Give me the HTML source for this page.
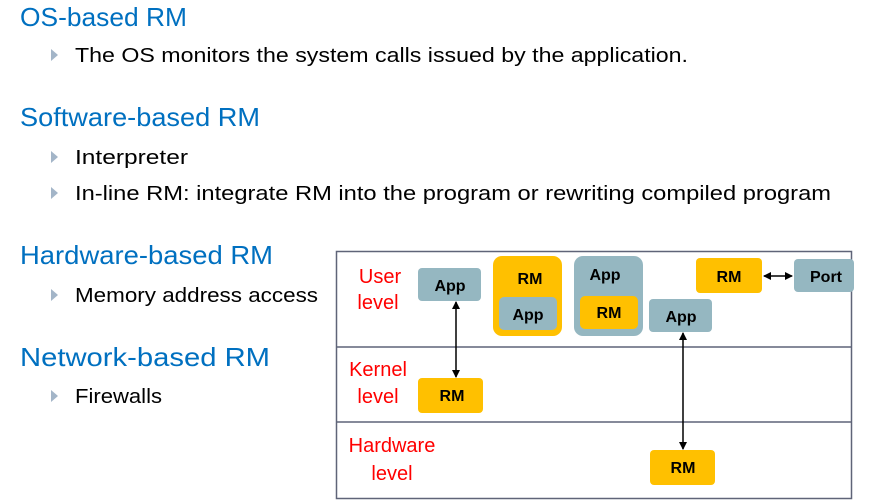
<!DOCTYPE html>
<html><head><meta charset="utf-8"><style>
html,body{margin:0;padding:0;background:#fff;}
svg{display:block;font-family:"Liberation Sans",sans-serif;}
.h{fill:#0070c0;font-size:26px;}
.b{fill:#000;font-size:20px;}
.r{fill:#ff0000;font-size:20px;}
.l{font-size:16px;font-weight:bold;fill:#000;text-anchor:middle;}
</style></head><body>
<svg width="871" height="502" viewBox="0 0 871 502">
<defs>
<marker id="a" markerWidth="8" markerHeight="8" refX="7" refY="4" orient="auto-start-reverse" markerUnits="userSpaceOnUse"><path d="M0,0 L8,4 L0,8 z" fill="#000"/></marker>
</defs>
<g class="h">
<text x="20" y="26" textLength="167" lengthAdjust="spacingAndGlyphs">OS-based RM</text>
<text x="20" y="126" textLength="240" lengthAdjust="spacingAndGlyphs">Software-based RM</text>
<text x="20" y="264" textLength="253" lengthAdjust="spacingAndGlyphs">Hardware-based RM</text>
<text x="20" y="366" textLength="250" lengthAdjust="spacingAndGlyphs">Network-based RM</text>
</g>
<g fill="#a3b5c8">
<path d="M51,49 L58,55 L51,61z"/>
<path d="M51,151 L58,157 L51,163z"/>
<path d="M51,187 L58,193 L51,199z"/>
<path d="M51,289 L58,295 L51,301z"/>
<path d="M51,390 L58,396 L51,402z"/>
</g>
<g class="b">
<text x="75" y="62" textLength="613" lengthAdjust="spacingAndGlyphs">The OS monitors the system calls issued by the application.</text>
<text x="75" y="164" textLength="113" lengthAdjust="spacingAndGlyphs">Interpreter</text>
<text x="75" y="200" textLength="756" lengthAdjust="spacingAndGlyphs">In-line RM: integrate RM into the program or rewriting compiled program</text>
<text x="75" y="302" textLength="243" lengthAdjust="spacingAndGlyphs">Memory address access</text>
<text x="75" y="403" textLength="87" lengthAdjust="spacingAndGlyphs">Firewalls</text>
</g>
<rect x="336.5" y="251.5" width="515" height="247" fill="none" stroke="#5f6478" stroke-width="1.5"/>
<line x1="336" y1="347" x2="852" y2="347" stroke="#5f6478" stroke-width="1.5"/>
<line x1="336" y1="422" x2="852" y2="422" stroke="#5f6478" stroke-width="1.5"/>
<g class="r" text-anchor="middle">
<text x="380" y="283">User</text><text x="378" y="309">level</text>
<text x="378" y="376">Kernel</text><text x="378" y="403">level</text>
<text x="392" y="452">Hardware</text><text x="392" y="480">level</text>
</g>
<g>
<rect x="418" y="268" width="63" height="33" rx="4" fill="#95b7c1"/>
<rect x="493" y="256" width="69" height="80" rx="9" fill="#ffc000"/>
<rect x="499" y="297" width="58" height="33" rx="5" fill="#95b7c1"/>
<rect x="574" y="256" width="69" height="80" rx="9" fill="#95b7c1"/>
<rect x="580" y="296" width="58" height="33" rx="5" fill="#ffc000"/>
<rect x="649" y="299" width="63" height="33" rx="4" fill="#95b7c1"/>
<rect x="696" y="258" width="66" height="35" rx="4" fill="#ffc000"/>
<rect x="794" y="259" width="60" height="33" rx="4" fill="#95b7c1"/>
<rect x="418" y="378" width="65" height="35" rx="4" fill="#ffc000"/>
<rect x="650" y="450" width="65" height="35" rx="4" fill="#ffc000"/>
</g>
<g class="l">
<text x="450" y="291">App</text>
<text x="530" y="284">RM</text>
<text x="528" y="320">App</text>
<text x="605" y="280">App</text>
<text x="609" y="318">RM</text>
<text x="681" y="322">App</text>
<text x="729" y="282">RM</text>
<text x="826" y="282">Port</text>
<text x="452" y="401">RM</text>
<text x="683" y="473">RM</text>
</g>
<g stroke="#000" stroke-width="1.5" marker-start="url(#a)" marker-end="url(#a)">
<line x1="456" y1="302" x2="456" y2="377"/>
<line x1="683" y1="333" x2="683" y2="449"/>
<line x1="764" y1="276" x2="792" y2="276"/>
</g>
</svg>
</body></html>
